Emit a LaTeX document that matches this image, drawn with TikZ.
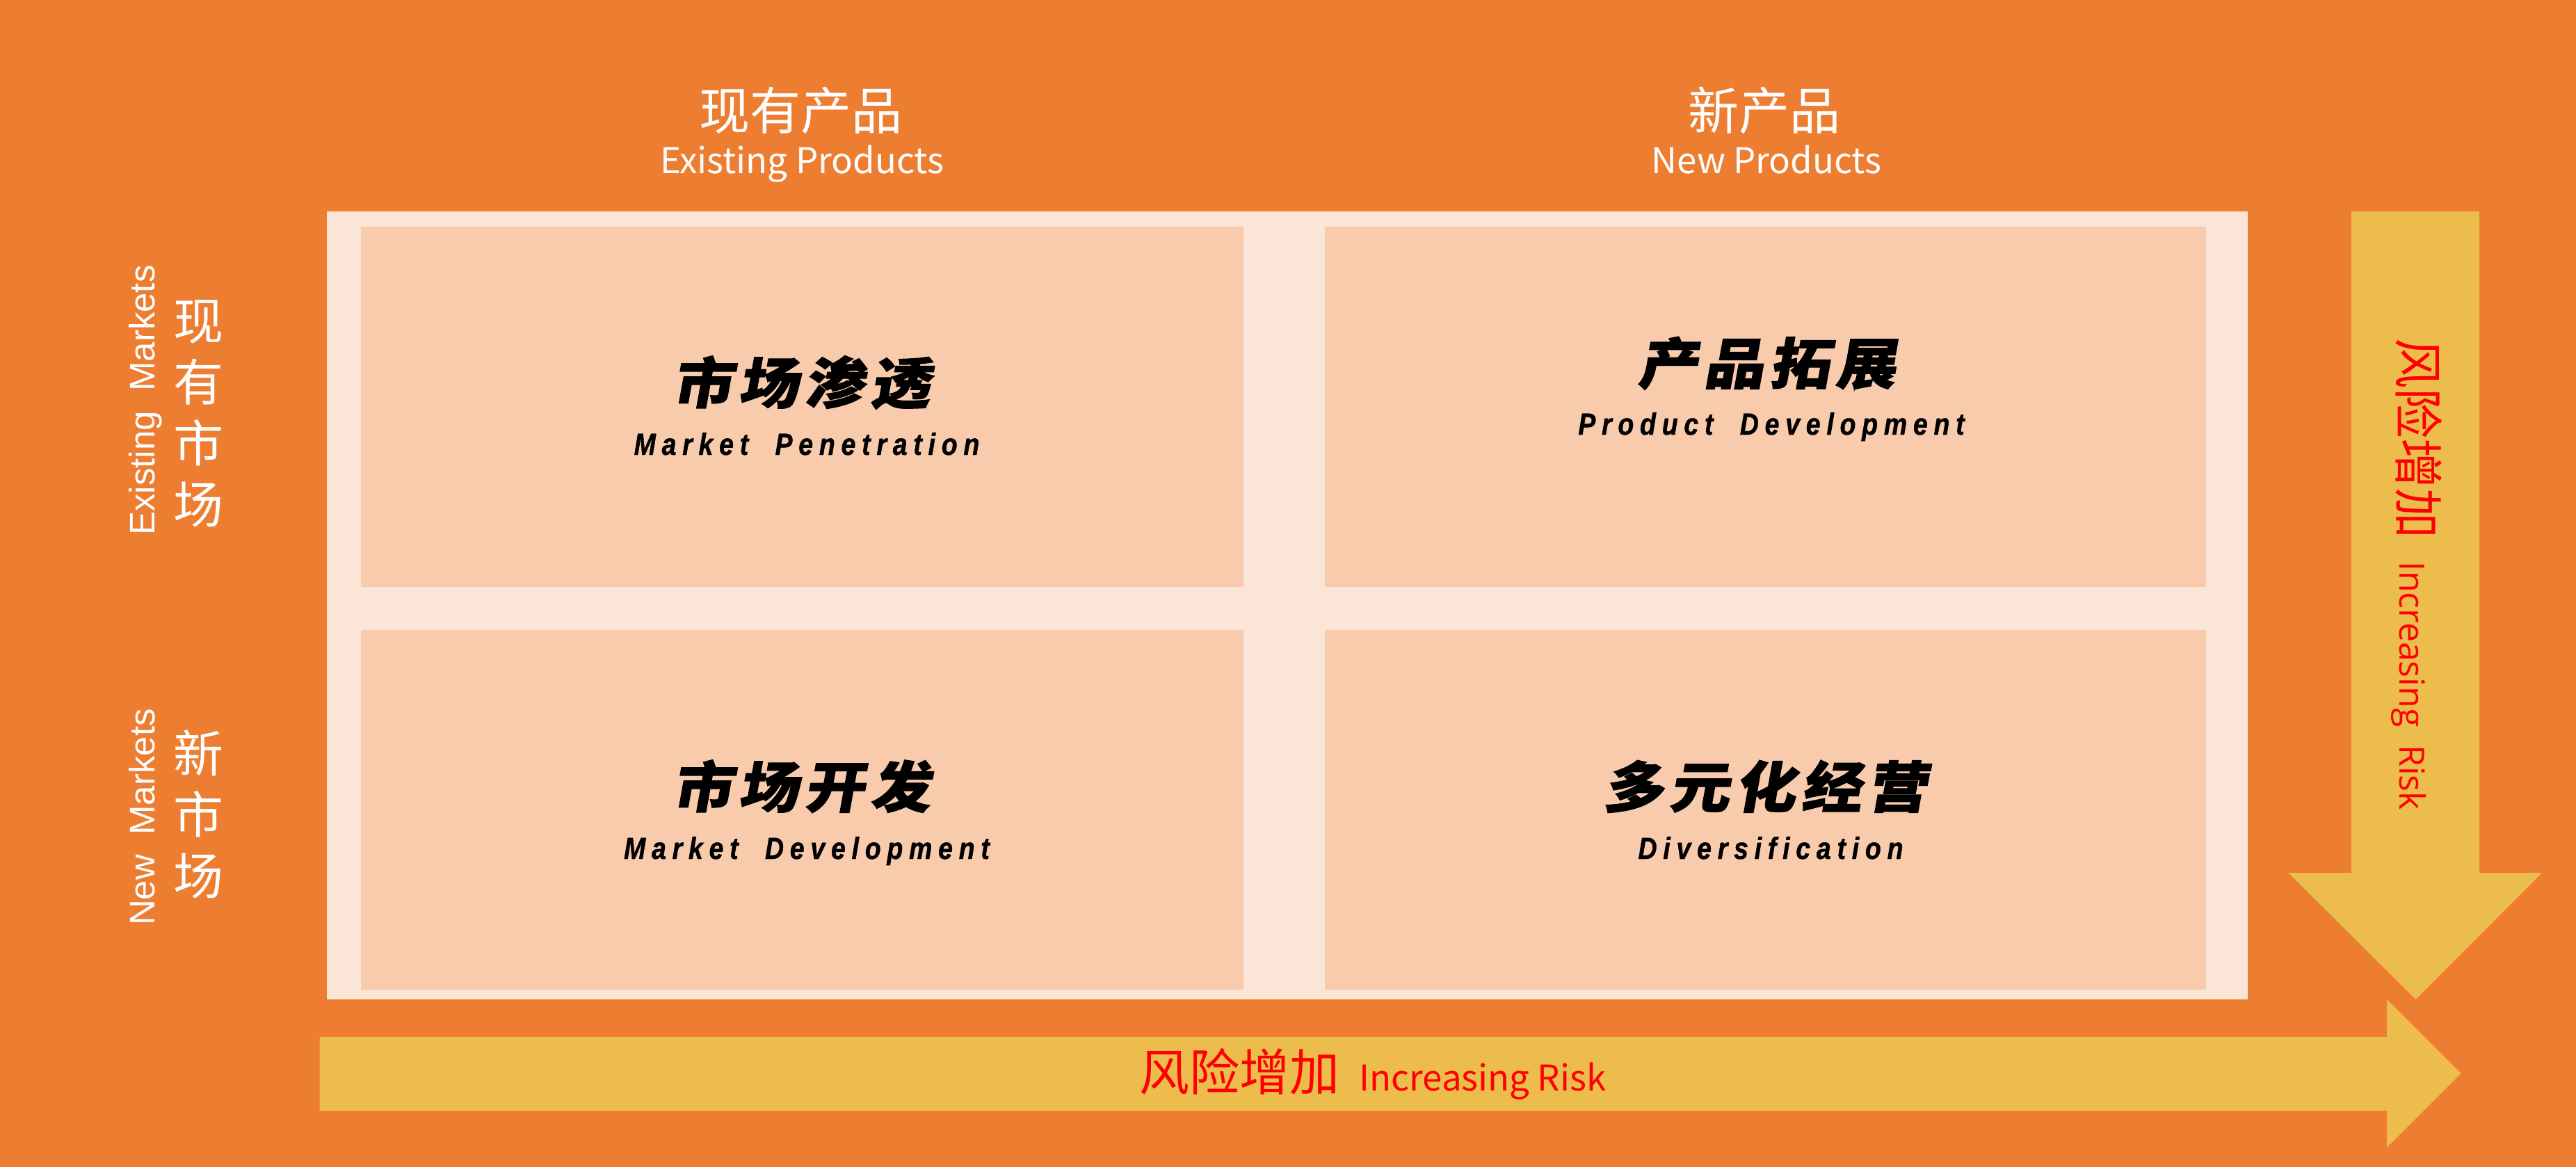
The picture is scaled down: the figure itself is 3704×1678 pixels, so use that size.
\documentclass[tikz,border=0pt]{standalone}
\usepackage{fontspec}
\setmainfont{Liberation Sans}
\newfontfamily\cjk{Noto Sans CJK SC}
\newfontfamily\cjkheavy{Noto Sans CJK SC}[FakeSlant=0.18,FakeStretch=1.1,LetterSpace=10,FakeBold=1.5]
\newfontfamily\techfont{Liberation Sans}[FakeStretch=0.85,LetterSpace=20,FakeBold=1]
\newfontfamily\opensans{Open Sans}
\definecolor{bgorange}{HTML}{ED7D31}
\definecolor{framepeach}{HTML}{FBE5D6}
\definecolor{cellpeach}{HTML}{F8CBAD}
\definecolor{arrowgold}{HTML}{ECBD4C}
\definecolor{riskred}{HTML}{FF0000}
\tikzset{
  cell/.style={fill=cellpeach, draw=none, inner sep=0pt, outer sep=0pt, anchor=north west},
  headcn/.style={text=white, font=\cjk\fontsize{73}{80}\selectfont, anchor=base, inner sep=0pt},
  headen/.style={text=white, font=\cjk\fontsize{51}{56}\selectfont, anchor=base, inner sep=0pt},
  cellcn/.style={text=black, font=\cjkheavy\bfseries\fontsize{79}{84}\selectfont, anchor=base, inner sep=0pt},
  cellen/.style={text=black, font=\techfont\bfseries\itshape\fontsize{44}{48}\selectfont, anchor=base, inner sep=0pt},
  sidecn/.style={text=white, font=\cjk\fontsize{72}{88}\selectfont, align=center, inner sep=0pt},
  sideen/.style={text=white, font=\fontsize{51}{56}\selectfont, rotate=90, anchor=base, inner sep=0pt},
  risk/.style={text=riskred, inner sep=0pt},
}
\begin{document}
\begin{tikzpicture}[x=1pt,y=-1pt]
\useasboundingbox (0,0) rectangle (3704,1678);
\fill[bgorange] (0,0) rectangle (3704,1678);
% frame
\node[fill=framepeach, inner sep=0pt, outer sep=0pt, anchor=north west,
      minimum width=2761.5pt, minimum height=1133pt] (frame) at (470,304) {};
% cells
\node[cell, minimum width=1269.5pt, minimum height=518pt] (q1) at (518.5,326) {};
\node[cell, minimum width=1267pt, minimum height=518pt] (q2) at (1905,326) {};
\node[cell, minimum width=1269.5pt, minimum height=517pt] (q3) at (518.5,906) {};
\node[cell, minimum width=1267pt, minimum height=517pt] (q4) at (1905,906) {};
% arrows
\fill[arrowgold] (3381,304) -- (3565,304) -- (3565,1255) -- (3655,1255) -- (3473.5,1437)
   -- (3290.5,1255) -- (3381,1255) -- cycle;
\fill[arrowgold] (459.5,1491) -- (3432,1491) -- (3432,1437) -- (3538.6,1543.5)
   -- (3432,1650) -- (3432,1597) -- (459.5,1597) -- cycle;
% column heads
\node[headcn] (h1) at (1151,186) {现有产品};
\node[headen] (h1e) at (1153,249) {Existing Products};
\node[headcn] (h2) at (2537,186) {新产品};
\node[headen] (h2e) at (2540,249) {New Products};
% row heads
\node[sidecn] (r1) at (285.5,594.5) {现\\有\\市\\场};
\node[sideen] (r1e) at (222,575.5) {Existing\ \ Markets};
\node[sidecn] (r2) at (285.5,1170.5) {新\\市\\场};
\node[sideen] (r2e) at (222,1175) {New\ \ Markets};
% cell texts
\node[cellcn] (t1) at (1152,580) {市场渗透};
\node[cellen] (t1e) at (1160,654) {Market\ \ Penetration};
\node[cellcn] (t2) at (2540,552) {产品拓展};
\node[cellen] (t2e) at (2547,625) {Product\ \ Development};
\node[cellcn] (t3) at (1152,1161) {市场开发};
\node[cellen] (t3e) at (1160,1235) {Market\ \ Development};
\node[cellcn] (t4) at (2538,1161) {多元化经营};
\node[cellen] (t4e) at (2546,1235) {Diversification};
% risk labels
\node[risk, rotate=-90, anchor=base] (rv) at (3450,826)
  {\cjk\fontsize{72}{80}\selectfont 风险增加\ \ \opensans\fontsize{50}{56}\selectfont Increasing\ \ Risk};
\node[risk, anchor=base west] (rh) at (1638,1568)
  {\cjk\fontsize{72}{80}\selectfont 风险增加 \hspace{12pt}\fontsize{51}{56}\selectfont Increasing\ Risk};
\end{tikzpicture}
\end{document}
